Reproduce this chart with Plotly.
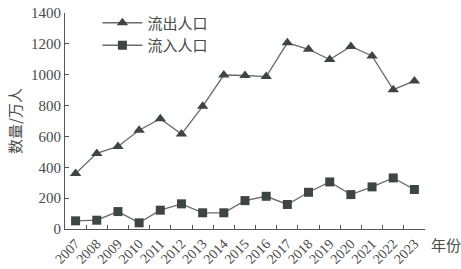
import plotly.graph_objects as go

years = [str(y) for y in range(2007, 2024)]
outflow = [360, 490, 535, 640, 715, 615, 795, 998, 995, 988, 1207, 1165, 1098, 1183, 1122, 903, 960]
inflow = [53, 57, 113, 40, 122, 163, 105, 105, 184, 212, 159, 238, 305, 223, 273, 331, 256]

line_col = "#6a6a6a"
mk_col = "#3d4545"
txt_col = "#4a4a4a"
serif = "Liberation Serif, DejaVu Serif, serif"
cjk = "Noto Sans CJK SC, sans-serif"

fig = go.Figure()
fig.add_trace(go.Scatter(x=years, y=outflow, name="流出人口", mode="lines+markers",
                         line=dict(color=line_col, width=1.3),
                         marker=dict(symbol="triangle-up", size=10, color=mk_col)))
fig.add_trace(go.Scatter(x=years, y=inflow, name="流入人口", mode="lines+markers",
                         line=dict(color=line_col, width=1.3),
                         marker=dict(symbol="square", size=9, color=mk_col)))

fig.update_layout(
    width=461, height=269,
    margin=dict(l=65, r=36, t=13, b=40, autoexpand=False),
    paper_bgcolor="white", plot_bgcolor="white",
    showlegend=True,
    legend=dict(x=0.09, y=1.03, xanchor="left", yanchor="top",
                itemwidth=40,
                font=dict(family=cjk, size=15, color=txt_col),
                bgcolor="rgba(0,0,0,0)", tracegroupgap=0),
    xaxis=dict(type="category", range=[-0.5, 16.5], showgrid=False, automargin=False,
               showline=True, linecolor="#555", linewidth=1.2,
               ticks="inside", ticklen=4, tickcolor="#555", tickson="boundaries",
               tickangle=-45, tickfont=dict(family=serif, size=14, color=txt_col)),
    yaxis=dict(range=[0, 1400], dtick=200, showgrid=False, zeroline=False, automargin=False,
               showline=True, linecolor="#555", linewidth=1.2,
               ticks="inside", ticklen=4, tickcolor="#555",
               tickfont=dict(family=serif, size=15, color=txt_col)),
    annotations=[
        dict(text="数量/万人", xref="paper", yref="paper", x=-0.142, y=0.5,
             xanchor="center", textangle=-90, showarrow=False,
             font=dict(family=cjk, size=15, color=txt_col)),
        dict(text="年份", xref="paper", yref="paper", x=1.0, y=-0.07,
             xanchor="left", yanchor="middle", xshift=4, showarrow=False,
             font=dict(family=cjk, size=15, color=txt_col)),
    ],
)

fig.write_html("out.html")
